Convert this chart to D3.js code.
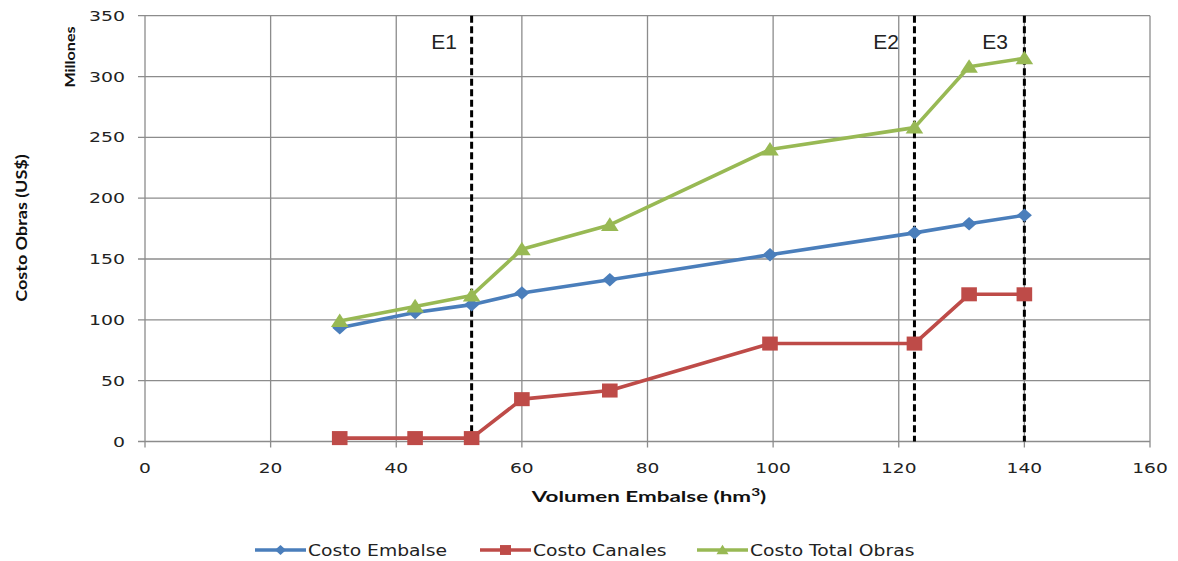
<!DOCTYPE html>
<html>
<head>
<meta charset="utf-8">
<script src="https://cdn.jsdelivr.net/npm/d3@7"></script>
<style>
  body { margin: 0; background: #fff; }
  svg { display: block; }
</style>
</head>
<body>
<svg id="chart" width="1178" height="561"></svg>
<script>
// Reservoir volume (hm³) and the associated costs (millions of US$)
const volumen      = [31, 43, 52, 60, 74, 99.5, 122.5, 131.2, 140];
const costoEmbalse = [93.5, 106, 112.5, 122, 133, 153.5, 171.5, 179, 186];
const costoCanales = [2.8, 2.8, 2.8, 34.8, 41.9, 80.5, 80.5, 121, 121];
const costoTotal   = [99, 111, 120, 158, 178, 240, 258, 308, 315];

// Construction stages marked with dashed verticals
const etapas        = ["E1", "E2", "E3"];
const etapaVolumen  = [52, 122.5, 140];

const xTicks = [0, 20, 40, 60, 80, 100, 120, 140, 160];
const yTicks = [0, 50, 100, 150, 200, 250, 300, 350];

const seriesNames  = ["Costo Embalse", "Costo Canales", "Costo Total Obras"];
const seriesColors = ["#4a7ebb", "#be4b48", "#98b954"];
const seriesShapes = ["diamond", "square", "triangle"];
const seriesValues = [costoEmbalse, costoCanales, costoTotal];

const svg = d3.select("#chart");
const x = d3.scaleLinear().domain([0, 160]).range([145, 1150]);
const y = d3.scaleLinear().domain([0, 350]).range([441.5, 15.7]);

const tickFont = "'DejaVu Sans', Verdana, sans-serif";
const titleFont = "Lato, 'Open Sans', sans-serif";

// Text widened along its baseline, anchored at (px, py), optionally rotated
function wideText(parent, px, py, str, opts) {
  const g = parent.append("g")
    .attr("transform", `translate(${px},${py}) rotate(${opts.rotate || 0}) scale(${opts.sx || 1},1)`);
  return g.append("text")
    .attr("x", 0).attr("y", 0)
    .attr("text-anchor", opts.anchor || "start")
    .attr("font-family", opts.family || tickFont)
    .attr("font-size", opts.size || 13)
    .attr("font-weight", opts.weight || "normal")
    .attr("fill", opts.fill || "#222")
    .text(str);
}

// Grid
const grid = svg.append("g").attr("stroke", "#8c8c8c").attr("stroke-width", 1.3);
grid.selectAll("line.h").data(yTicks).join("line")
  .attr("x1", x(0) - 7).attr("x2", x(160))
  .attr("y1", d => y(d)).attr("y2", d => y(d));
grid.selectAll("line.v").data(xTicks).join("line")
  .attr("x1", d => x(d)).attr("x2", d => x(d))
  .attr("y1", y(350)).attr("y2", y(0) + 6);

// Axis tick labels
const yAxisG = svg.append("g");
yTicks.forEach(t => wideText(yAxisG, 125, y(t) + 5, String(t), { anchor: "end", size: 13.5, sx: 1.4 }));
const xAxisG = svg.append("g");
xTicks.forEach(t => wideText(xAxisG, x(t), 473, String(t), { anchor: "middle", size: 13.5, sx: 1.38 }));

// Axis titles
wideText(svg, 27, 228, "Costo Obras (US$)", {
  anchor: "middle", family: titleFont, weight: "bold", size: 15, sx: 1.2, rotate: -90, fill: "#111"
});
wideText(svg, 75, 57, "Millones", {
  anchor: "middle", family: titleFont, weight: "bold", size: 14, sx: 1.15, rotate: -90, fill: "#111"
});
const xtG = svg.append("g").attr("transform", "translate(649,502) scale(1.4,1)");
const xt = xtG.append("text")
  .attr("x", 0).attr("y", 0)
  .attr("text-anchor", "middle")
  .attr("font-family", titleFont).attr("font-weight", "bold")
  .attr("font-size", 16).attr("fill", "#111");
xt.append("tspan").text("Volumen Embalse  (hm");
xt.append("tspan").attr("dy", -6).attr("font-size", 11).text("3");
xt.append("tspan").attr("dy", 6).text(")");

// Stage markers
const stages = svg.append("g");
etapaVolumen.forEach(v => {
  stages.append("line")
    .attr("x1", x(v)).attr("x2", x(v))
    .attr("y1", y(350)).attr("y2", y(0))
    .attr("stroke", "#000").attr("stroke-width", 3)
    .attr("stroke-dasharray", "7,3.5");
});
const etapaLabelX = [444, 886, 995];
etapas.forEach((e, i) => {
  svg.append("text")
    .attr("x", etapaLabelX[i]).attr("y", 49)
    .attr("text-anchor", "middle")
    .attr("font-family", "'Liberation Sans', Arial, sans-serif")
    .attr("font-size", 21).attr("fill", "#222")
    .text(e);
});

// Marker shapes
function markerPath(shape, s) {
  if (shape === "diamond") return `M0,${-s * 0.9}L${s},0L0,${s * 0.9}L${-s},0Z`;
  if (shape === "square") return `M${-s},${-s * 0.9}H${s}V${s * 0.9}H${-s}Z`;
  return `M0,${-s * 0.95}L${s * 1.1},${s * 0.75}L${-s * 1.1},${s * 0.75}Z`;
}
const markerSize = [7.5, 7.8, 8];

// Series
seriesValues.forEach((vals, i) => {
  const pts = volumen.map((v, j) => [v, vals[j]]);
  const g = svg.append("g");
  g.append("path")
    .datum(pts)
    .attr("fill", "none")
    .attr("stroke", seriesColors[i])
    .attr("stroke-width", 3.6)
    .attr("stroke-linejoin", "round")
    .attr("d", d3.line().x(d => x(d[0])).y(d => y(d[1])));
  g.selectAll("path.m").data(pts).join("path")
    .attr("class", "m")
    .attr("transform", d => `translate(${x(d[0])},${y(d[1])})`)
    .attr("d", markerPath(seriesShapes[i], markerSize[i]))
    .attr("fill", seriesColors[i]);
});

// Legend
const legendX = [255, 480, 697];
const legend = svg.append("g");
seriesNames.forEach((name, i) => {
  const lx = legendX[i], ly = 550;
  legend.append("line")
    .attr("x1", lx).attr("x2", lx + 51)
    .attr("y1", ly).attr("y2", ly)
    .attr("stroke", seriesColors[i]).attr("stroke-width", 3.6);
  legend.append("path")
    .attr("transform", `translate(${lx + 25.5},${ly})`)
    .attr("d", markerPath(seriesShapes[i], 5.5))
    .attr("fill", seriesColors[i]);
  wideText(legend, lx + 53, ly + 6, name, { size: 15, sx: 1.25 });
});
</script>
</body>
</html>
